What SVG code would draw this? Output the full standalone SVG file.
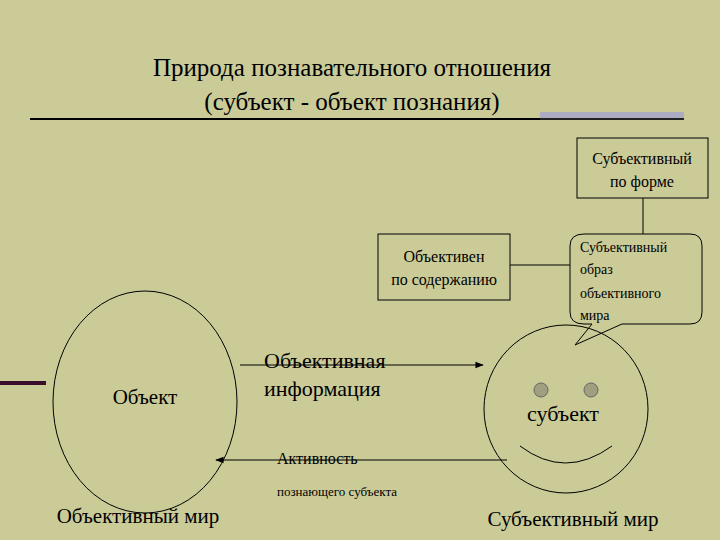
<svg xmlns="http://www.w3.org/2000/svg" width="720" height="540" viewBox="0 0 720 540" font-family="'Liberation Serif', 'Times New Roman', serif">
<defs>
<style>
.s{fill:none;stroke:#000;stroke-width:1}
.b{fill:none;stroke:#000;stroke-width:1.2}
</style>
<marker id="ah" viewBox="0 0 10 10" refX="9" refY="5" markerWidth="7" markerHeight="7" orient="auto-start-reverse"><path d="M0,1 L10,5 L0,9 z" fill="#000"/></marker>
</defs>
<rect width="720" height="540" fill="#cbcb98"/>
<g id="title">
<text x="352" y="76" font-size="25" text-anchor="middle">Природа познавательного отношения</text>
<text x="352" y="110" font-size="25" text-anchor="middle">(субъект - объект познания)</text>
<line x1="30" y1="119" x2="684" y2="119" stroke="#000" stroke-width="2"/>
<line x1="540" y1="116" x2="684" y2="116" stroke="#a8a8c6" stroke-width="8" opacity="0.9"/>
<line x1="540" y1="119" x2="684" y2="119" stroke="#222" stroke-width="2"/>
<line x1="0" y1="383" x2="46" y2="383" stroke="#3a0d2a" stroke-width="4"/>
</g>
<g id="connectors">
<line class="s" x1="643" y1="198" x2="643" y2="234"/>
<line class="s" x1="510" y1="265" x2="570" y2="265"/>
<line class="b" x1="240" y1="365" x2="483" y2="365" marker-end="url(#ah)"/>
<line class="b" x1="507" y1="460" x2="216" y2="460" marker-end="url(#ah)"/>
</g>
<g id="form">
<rect x="577" y="138" width="131" height="60" class="s"/>
<text x="642" y="164" font-size="16" text-anchor="middle">Субъективный</text>
<text x="642" y="187" font-size="16" text-anchor="middle">по форме</text>
</g>
<g id="content">
<rect x="378" y="234" width="132" height="66" class="s"/>
<text x="444" y="262" font-size="16" text-anchor="middle">Объективен</text>
<text x="444" y="285" font-size="16" text-anchor="middle">по содержанию</text>
</g>
<g id="image">
<path class="s" d="M584,234 H690 Q702,234 702,246 V312 Q702,324 690,324 H622 L575,345 L592,324 H584 Q570,324 570,312 V246 Q570,234 584,234 Z" fill="#cbcb98"/>
<text x="580" y="252" font-size="14">Субъективный</text>
<text x="580" y="274" font-size="14">образ</text>
<text x="580" y="298" font-size="14">объективного</text>
<text x="580" y="320" font-size="14">мира</text>
</g>
<g id="object">
<ellipse cx="145" cy="402" rx="92" ry="111" class="s"/>
<text x="145" y="404" font-size="21" text-anchor="middle">Объект</text>
</g>
<g id="subject">
<ellipse cx="566" cy="409" rx="82" ry="84" class="s"/>
<circle cx="541" cy="390" r="7" fill="#a0a080" stroke="#666"/>
<circle cx="591" cy="390" r="7" fill="#a0a080" stroke="#666"/>
<path class="s" d="M520,446 Q565,480 612,446"/>
<text x="563" y="421" font-size="22" text-anchor="middle">субъект</text>
</g>
<g id="labels">
<text x="264" y="368" font-size="22">Объективная</text>
<text x="264" y="396" font-size="22">информация</text>
<text x="277" y="464" font-size="16">Активность</text>
<text x="277" y="496" font-size="13">познающего  субъекта</text>
<text x="138" y="523" font-size="21" text-anchor="middle">Объективный мир</text>
<text x="573" y="526" font-size="21" text-anchor="middle">Субъективный мир</text>
</g>
</svg>
